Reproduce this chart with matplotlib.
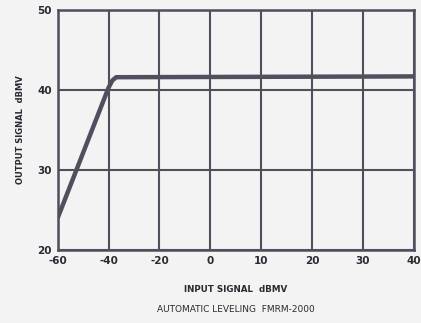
import numpy as np
import matplotlib.pyplot as plt

# input signal (dBmV) vs output signal (dBmV)
input_db = [-60, -40, -38.5, -37, 40]
output_db = [24, 40.3, 41.2, 41.6, 41.7]

x_ticks = [-60, -40, -20, 0, 10, 20, 30, 40]
x_labels = ['-60', '-40', '-20', '0', '10', '20', '30', '40']
y_ticks = [20, 30, 40, 50]

ink = '#4f4f5e'
paper = '#f3f3f3'

pos = np.arange(len(x_ticks), dtype=float)


def fwd(v):
    return np.interp(v, x_ticks, pos)


def inv(p):
    return np.interp(p, pos, x_ticks)


fig = plt.figure(figsize=(4.21, 3.23), dpi=100, facecolor=paper)
ax = fig.add_axes([0.137, 0.226, 0.846, 0.743], facecolor=paper)
ax.set_xscale('function', functions=(fwd, inv))

ax.plot(input_db, output_db, color=ink, lw=3.2, solid_capstyle='butt', zorder=3)

ax.set_xlim(-60, 40)
ax.set_ylim(20, 50)
ax.set_xticks(x_ticks)
ax.set_xticklabels(x_labels)
ax.set_yticks(y_ticks)
ax.minorticks_off()
ax.grid(True, color=ink, lw=1.5)
ax.tick_params(length=0, labelsize=7.5, colors='#2a2a33', pad=4)
for lab in ax.get_xticklabels() + ax.get_yticklabels():
    lab.set_fontweight('bold')
for s in ax.spines.values():
    s.set_color(ink)
    s.set_linewidth(1.8)

ax.set_ylabel('OUTPUT SIGNAL  dBMV', fontsize=6, fontweight='bold', color='#2a2a33', labelpad=9)
fig.text(0.56, 0.095, 'INPUT SIGNAL  dBMV', fontsize=6.3, fontweight='bold',
         color='#2a2a33', ha='center')
fig.text(0.56, 0.035, 'AUTOMATIC LEVELING  FMRM-2000', fontsize=6.5,
         color='#2a2a33', ha='center')

fig.savefig('out.png', dpi=100, facecolor=paper)
